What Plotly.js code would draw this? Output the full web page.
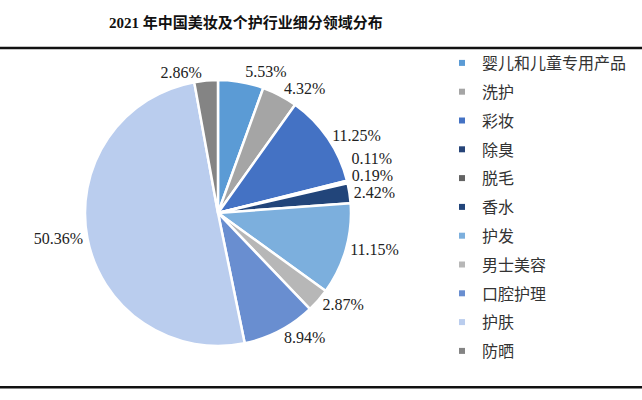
<!DOCTYPE html>
<html>
<head>
<meta charset="utf-8">
<script src="https://cdn.plot.ly/plotly-3.0.1.min.js"></script>
<style>
html,body{margin:0;padding:0;background:#fff;}
#chart{width:642px;height:400px;}
#chart path.textline{display:none !important;}
</style>
</head>
<body>
<div id="chart"></div>
<script>
// Data
var categories = ["婴儿和儿童专用产品","洗护","彩妆","除臭","脱毛","香水","护发","男士美容","口腔护理","护肤","防晒"];
var shares = [5.53, 4.32, 11.25, 0.11, 0.19, 2.42, 11.15, 2.87, 8.94, 50.36, 2.86];
var sliceColors = ["#5b9bd5","#a5a5a5","#4472c4","#264478","#636363","#22457a","#7cafdd","#b7b7b7","#698ed0","#bacdee","#848484"];
var chartTitle = "2021 年中国美妆及个护行业细分领域分布";

var traces = [{
  type: "pie",
  labels: categories,
  values: shares,
  sort: false,
  direction: "clockwise",
  rotation: 0,
  marker: {colors: sliceColors, line: {color: "#ffffff", width: 2.5}},
  texttemplate: "%{value:.2f}%",
  textposition: "outside",
  outsidetextfont: {family: "Liberation Serif, Times New Roman, serif", size: 16, color: "#222"},
  hoverinfo: "label+value",
  showlegend: false,
  domain: {x: [0.1324, 0.5467], y: [0.135, 0.80]}
}];

// legend entries (small squares) built from the same arrays
categories.forEach(function(c, i){
  traces.push({
    type: "scatter", mode: "markers", x: [null], y: [null],
    name: c, legendgroup: "g" + i,
    marker: {symbol: "square", size: 6, color: sliceColors[i]},
    hoverinfo: "skip"
  });
});

var layout = {
  width: 642, height: 400,
  margin: {l: 0, r: 0, t: 0, b: 0},
  paper_bgcolor: "#fff", plot_bgcolor: "#fff",
  title: {text: "<b>" + chartTitle + "</b>", x: 0.383, xanchor: "center", y: 0.943, yanchor: "middle",
          font: {family: "Liberation Serif, Noto Sans CJK SC, serif", size: 15, color: "#111"}},
  xaxis: {visible: false}, yaxis: {visible: false},
  showlegend: true,
  legend: {x: 0.6885, xanchor: "left", y: 0.885, yanchor: "top", tracegroupgap: 5,
           font: {family: "Noto Sans CJK SC, sans-serif", size: 16, color: "#333"},
           bgcolor: "rgba(0,0,0,0)"},
  shapes: [
    {type: "line", xref: "paper", yref: "paper", x0: 0, x1: 1, y0: 0.88, y1: 0.88, line: {color: "#111", width: 2.5}},
    {type: "line", xref: "paper", yref: "paper", x0: 0, x1: 1, y0: 0.032, y1: 0.032, line: {color: "#111", width: 2.5}}
  ]
};

Plotly.newPlot("chart", traces, layout, {displayModeBar: false, staticPlot: true});
</script>
</body>
</html>
